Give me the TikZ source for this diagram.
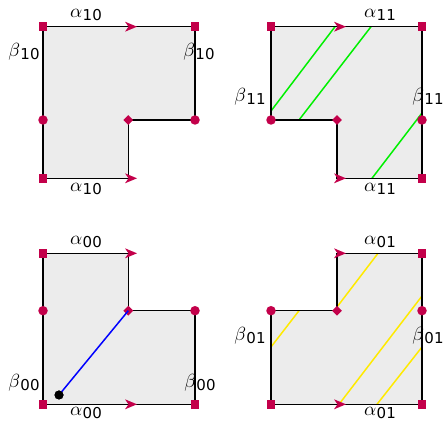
\documentclass[tikz,border=0pt]{standalone}
\usepackage{graphicx}
\usepackage{fontspec}
\newfontfamily\dvs{DejaVu Sans}
\usetikzlibrary{shapes.geometric}
\definecolor{mk}{HTML}{C3004A}
\definecolor{shapegray}{HTML}{ECECEC}
\definecolor{lgreen}{HTML}{00F000}
\definecolor{lyellow}{HTML}{FFEA00}
\newcommand\glab[2]{\scalebox{1.9}{$#1$}\hspace{0.3pt}\raisebox{-2.5pt}{\fontsize{15}{16}\selectfont\dvs #2}}
\newcommand\arw[2]{\fill[mk] (#1+12,#2) -- (#1,#2-5) -- (#1+3.5,#2) -- (#1,#2+5) -- cycle;}
\tikzset{
  region/.style={draw=black, line width=1.4pt, fill=shapegray, line join=miter},
  sqm/.style={rectangle, fill=mk, minimum size=8.5pt, inner sep=0pt},
  circm/.style={circle, fill=mk, minimum size=9.5pt, inner sep=0pt},
  diam/.style={diamond, fill=mk, minimum size=10pt, inner sep=0pt},
  lbl/.style={inner sep=0pt, anchor=center},
  gline/.style={draw=lgreen, line width=1.5pt},
  yline/.style={draw=lyellow, line width=1.5pt},
  bline/.style={draw=blue, line width=1.5pt},
}
\begin{document}
\begin{tikzpicture}[x=1pt,y=-1pt]
\useasboundingbox (0,0) rectangle (445,422);
% ---------- top-left ----------
\path[region] (43,26.7) -- (195,26.7) -- (195,120) -- (128.3,120) -- (128.3,178.3) -- (43,178.3) -- cycle;
\arw{125}{26.7}
\arw{125}{178.3}
\node[sqm] (tl1) at (43,26.7) {};
\node[sqm] (tl2) at (195,26.7) {};
\node[sqm] (tl3) at (43,178.3) {};
\node[circm] (tl4) at (43,120) {};
\node[circm] (tl5) at (195,120) {};
\node[diam] (tl6) at (128.3,120) {};
\node[lbl] (tla1) at (86,15) {\glab{\alpha}{10}};
\node[lbl] (tla2) at (86,189) {\glab{\alpha}{10}};
\node[lbl] (tlb1) at (24,52) {\glab{\beta}{10}};
\node[lbl] (tlb2) at (199,52) {\glab{\beta}{10}};
% ---------- top-right ----------
\path[fill=shapegray] (271,26.7) -- (422,26.7) -- (422,178.3) -- (337,178.3) -- (337,120) -- (271,120) -- cycle;
\draw[gline] (271,111) -- (335,26.7);
\draw[gline] (299,120) -- (371,26.7);
\draw[gline] (422,113) -- (372,178.3);
\draw[line width=1.4pt] (271,26.7) -- (422,26.7) -- (422,178.3) -- (337,178.3) -- (337,120) -- (271,120) -- cycle;
\arw{334}{26.7}
\arw{334}{178.3}
\node[sqm] (tr1) at (271,26.7) {};
\node[sqm] (tr2) at (422,26.7) {};
\node[sqm] (tr3) at (422,178.3) {};
\node[circm] (tr4) at (271,120) {};
\node[circm] (tr5) at (422,120) {};
\node[diam] (tr6) at (337,120) {};
\node[lbl] (tra1) at (380,15) {\glab{\alpha}{11}};
\node[lbl] (tra2) at (380,189) {\glab{\alpha}{11}};
\node[lbl] (trb1) at (250,97) {\glab{\beta}{11}};
\node[lbl] (trb2) at (428,97) {\glab{\beta}{11}};
% ---------- bottom-left ----------
\path[region] (43,253.3) -- (128.3,253.3) -- (128.3,310.7) -- (195,310.7) -- (195,404.3) -- (43,404.3) -- cycle;
\arw{125}{253.3}
\arw{125}{404.3}
\node[sqm] (bl1) at (43,253.3) {};
\node[sqm] (bl2) at (43,404.3) {};
\node[sqm] (bl3) at (195,404.3) {};
\node[circm] (bl4) at (43,310.7) {};
\node[circm] (bl5) at (195,310.7) {};
\node[diam] (bl6) at (128.3,310.7) {};
\node[circle, fill=black, minimum size=9pt, inner sep=0pt] (dot) at (59,395) {};
\draw[bline] (dot.center) -- (bl6.center);
\fill[black] (59,395) circle (4.5);
\node[lbl] (bla1) at (86,242) {\glab{\alpha}{00}};
\node[lbl] (bla2) at (86,413) {\glab{\alpha}{00}};
\node[lbl] (blb1) at (24,383) {\glab{\beta}{00}};
\node[lbl] (blb2) at (200,383) {\glab{\beta}{00}};
% ---------- bottom-right ----------
\path[fill=shapegray] (271,310.7) -- (337,310.7) -- (337,253.3) -- (422,253.3) -- (422,404.3) -- (271,404.3) -- cycle;
\draw[yline] (271,347) -- (299,310.7);
\draw[yline] (337,307) -- (378,253.3);
\draw[yline] (339,404.3) -- (422,296);
\draw[yline] (377,404.3) -- (422,347);
\draw[line width=1.4pt] (271,310.7) -- (337,310.7) -- (337,253.3) -- (422,253.3) -- (422,404.3) -- (271,404.3) -- cycle;
\arw{334}{253.3}
\arw{334}{404.3}
\node[sqm] (br1) at (271,404.3) {};
\node[sqm] (br2) at (422,253.3) {};
\node[sqm] (br3) at (422,404.3) {};
\node[circm] (br4) at (271,310.7) {};
\node[circm] (br5) at (422,310.7) {};
\node[diam] (br6) at (337,310.7) {};
\node[lbl] (bra1) at (380,242) {\glab{\alpha}{01}};
\node[lbl] (bra2) at (380,413) {\glab{\alpha}{01}};
\node[lbl] (brb1) at (250,336) {\glab{\beta}{01}};
\node[lbl] (brb2) at (428,336) {\glab{\beta}{01}};
\end{tikzpicture}
\end{document}
